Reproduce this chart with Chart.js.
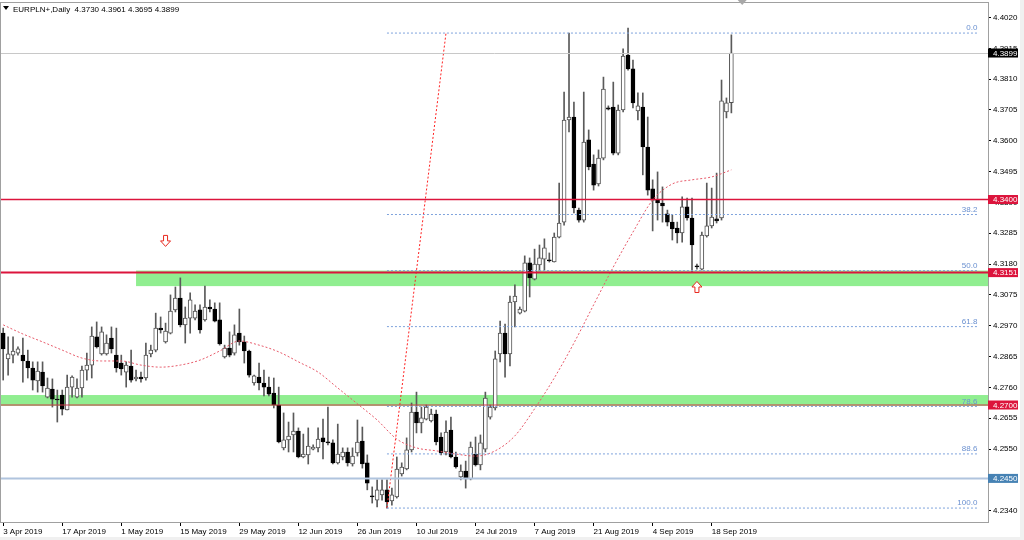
<!DOCTYPE html>
<html>
<head>
<meta charset="utf-8">
<title>EURPLN+ Daily</title>
<script src="https://cdn.jsdelivr.net/npm/chart.js"></script>
<style>
  html, body { margin: 0; padding: 0; background: #f0f0f0; }
  #wrap { width: 1024px; height: 540px; }
</style>
</head>
<body>
<div id="wrap"><canvas id="chart" width="1024" height="540"></canvas></div>
<script>
const symbol = 'EURPLN+,Daily';

// daily candles, 3 Apr 2019 .. 23 Sep 2019 (broker shows sunday bars too)
const opens = [
  4.2945, 4.2857, 4.2870, 4.2877, 4.2870, 4.2850, 4.2826, 4.2782, 4.2812, 4.2727,
  4.2754, 4.2720, 4.2734, 4.2683, 4.2761, 4.2727, 4.2758, 4.2819, 4.2836, 4.2932,
  4.2874, 4.2874, 4.2928, 4.2870, 4.2843, 4.2812, 4.2833, 4.2789, 4.2795, 4.2792,
  4.2874, 4.2887, 4.2962, 4.2915, 4.2945, 4.3024, 4.3064, 4.2973, 4.2996, 4.2996,
  4.3024, 4.2990, 4.3034, 4.3027, 4.2990, 4.2864, 4.2894, 4.2877, 4.2945, 4.2915,
  4.2884, 4.2775, 4.2795, 4.2775, 4.2761, 4.2741, 4.2700, 4.2554, 4.2581, 4.2598,
  4.2611, 4.2523, 4.2530, 4.2550, 4.2554, 4.2588, 4.2574, 4.2571, 4.2503, 4.2523,
  4.2540, 4.2499, 4.2537, 4.2577, 4.2503, 4.2390, 4.2376, 4.2394, 4.2411, 4.2373,
  4.2387, 4.2465, 4.2482, 4.2547, 4.2676, 4.2639, 4.2652, 4.2646, 4.2669, 4.2591,
  4.2540, 4.2615, 4.2523, 4.2455, 4.2475, 4.2448, 4.2533, 4.2496, 4.2550, 4.2659,
  4.2690, 4.2874, 4.2945, 4.2874, 4.3051, 4.3013, 4.3020, 4.3184, 4.3129, 4.3177,
  4.3197, 4.3194, 4.3187, 4.3272, 4.3323, 4.3671, 4.3681, 4.3364, 4.3330, 4.3603,
  4.3521, 4.3453, 4.3541, 4.3712, 4.3715, 4.3558, 4.3705, 4.3892, 4.3845, 4.3702,
  4.3715, 4.3579, 4.3436, 4.3398, 4.3388, 4.3351, 4.3323, 4.3303, 4.3286, 4.3375,
  4.3337, 4.3174, 4.3163, 4.3276, 4.3310, 4.3334, 4.3337, 4.3698, 4.3730
];
const highs = [
  4.2962, 4.2932, 4.2932, 4.2898, 4.2928, 4.2887, 4.2847, 4.2847, 4.2847, 4.2792,
  4.2789, 4.2751, 4.2751, 4.2802, 4.2799, 4.2789, 4.2833, 4.2877, 4.2966, 4.2983,
  4.2966, 4.2939, 4.2966, 4.2962, 4.2870, 4.2847, 4.2887, 4.2819, 4.2812, 4.2911,
  4.2904, 4.3013, 4.3000, 4.2979, 4.3075, 4.3102, 4.3133, 4.3034, 4.3082, 4.3041,
  4.3041, 4.3105, 4.3058, 4.3048, 4.3048, 4.2904, 4.2949, 4.2973, 4.3027, 4.2935,
  4.2887, 4.2802, 4.2843, 4.2819, 4.2795, 4.2792, 4.2761, 4.2673, 4.2642, 4.2673,
  4.2622, 4.2601, 4.2622, 4.2564, 4.2622, 4.2652, 4.2693, 4.2581, 4.2635, 4.2554,
  4.2554, 4.2554, 4.2649, 4.2625, 4.2530, 4.2421, 4.2445, 4.2445, 4.2445, 4.2417,
  4.2523, 4.2503, 4.2588, 4.2707, 4.2744, 4.2693, 4.2700, 4.2686, 4.2683, 4.2605,
  4.2646, 4.2659, 4.2540, 4.2496, 4.2509, 4.2574, 4.2591, 4.2598, 4.2744, 4.2700,
  4.2884, 4.2986, 4.2976, 4.3071, 4.3109, 4.3034, 4.3208, 4.3201, 4.3231, 4.3245,
  4.3266, 4.3218, 4.3286, 4.3456, 4.3766, 4.3967, 4.3732, 4.3371, 4.3766, 4.3637,
  4.3552, 4.3569, 4.3817, 4.3719, 4.3800, 4.3722, 4.3913, 4.3984, 4.3875, 4.3763,
  4.3763, 4.3681, 4.3467, 4.3494, 4.3443, 4.3364, 4.3347, 4.3323, 4.3409, 4.3405,
  4.3405, 4.3180, 4.3289, 4.3456, 4.3439, 4.3490, 4.3807, 4.3746, 4.3961
];
const lows = [
  4.2785, 4.2802, 4.2843, 4.2870, 4.2778, 4.2792, 4.2751, 4.2744, 4.2744, 4.2724,
  4.2693, 4.2642, 4.2666, 4.2683, 4.2727, 4.2724, 4.2727, 4.2785, 4.2792, 4.2894,
  4.2870, 4.2870, 4.2877, 4.2812, 4.2802, 4.2761, 4.2778, 4.2782, 4.2778, 4.2785,
  4.2864, 4.2881, 4.2945, 4.2911, 4.2942, 4.3017, 4.2966, 4.2911, 4.2945, 4.2990,
  4.2945, 4.2986, 4.3017, 4.2983, 4.2904, 4.2860, 4.2864, 4.2870, 4.2904, 4.2843,
  4.2795, 4.2768, 4.2751, 4.2731, 4.2731, 4.2690, 4.2571, 4.2547, 4.2540, 4.2540,
  4.2520, 4.2520, 4.2499, 4.2547, 4.2540, 4.2516, 4.2564, 4.2499, 4.2499, 4.2513,
  4.2492, 4.2492, 4.2526, 4.2485, 4.2411, 4.2366, 4.2353, 4.2376, 4.2349, 4.2359,
  4.2383, 4.2458, 4.2479, 4.2540, 4.2605, 4.2605, 4.2649, 4.2642, 4.2564, 4.2530,
  4.2530, 4.2520, 4.2485, 4.2445, 4.2417, 4.2445, 4.2492, 4.2479, 4.2540, 4.2652,
  4.2683, 4.2847, 4.2795, 4.2833, 4.2966, 4.3010, 4.3017, 4.3068, 4.3126, 4.3157,
  4.3160, 4.3187, 4.3187, 4.3269, 4.3313, 4.3630, 4.3354, 4.3323, 4.3323, 4.3501,
  4.3432, 4.3446, 4.3535, 4.3705, 4.3552, 4.3552, 4.3698, 4.3841, 4.3712, 4.3671,
  4.3484, 4.3415, 4.3293, 4.3330, 4.3323, 4.3310, 4.3262, 4.3252, 4.3255, 4.3330,
  4.3153, 4.3163, 4.3160, 4.3272, 4.3303, 4.3320, 4.3330, 4.3678, 4.3695
];
const closes = [
  4.2891, 4.2874, 4.2884, 4.2891, 4.2850, 4.2826, 4.2785, 4.2816, 4.2765, 4.2758,
  4.2720, 4.2717, 4.2686, 4.2761, 4.2795, 4.2758, 4.2819, 4.2836, 4.2935, 4.2898,
  4.2949, 4.2911, 4.2891, 4.2826, 4.2823, 4.2836, 4.2785, 4.2795, 4.2789, 4.2870,
  4.2887, 4.2962, 4.2956, 4.2952, 4.3020, 4.3064, 4.2973, 4.2996, 4.3058, 4.3020,
  4.2956, 4.3034, 4.3027, 4.2986, 4.2908, 4.2894, 4.2870, 4.2939, 4.2915, 4.2884,
  4.2802, 4.2799, 4.2775, 4.2761, 4.2737, 4.2700, 4.2574, 4.2581, 4.2594, 4.2611,
  4.2523, 4.2533, 4.2560, 4.2557, 4.2584, 4.2574, 4.2571, 4.2503, 4.2533, 4.2540,
  4.2503, 4.2526, 4.2574, 4.2499, 4.2434, 4.2387, 4.2411, 4.2411, 4.2370, 4.2394,
  4.2482, 4.2489, 4.2547, 4.2676, 4.2639, 4.2656, 4.2693, 4.2669, 4.2574, 4.2537,
  4.2608, 4.2523, 4.2489, 4.2475, 4.2448, 4.2557, 4.2496, 4.2571, 4.2724, 4.2693,
  4.2857, 4.2945, 4.2874, 4.3051, 4.3071, 4.3027, 4.3184, 4.3133, 4.3180, 4.3201,
  4.3235, 4.3191, 4.3272, 4.3320, 4.3671, 4.3681, 4.3371, 4.3330, 4.3596, 4.3511,
  4.3449, 4.3541, 4.3776, 4.3708, 4.3558, 4.3705, 4.3889, 4.3845, 4.3729, 4.3719,
  4.3579, 4.3432, 4.3398, 4.3388, 4.3378, 4.3323, 4.3300, 4.3286, 4.3375, 4.3337,
  4.3245, 4.3170, 4.3279, 4.3310, 4.3340, 4.3327, 4.3736, 4.3729, 4.3899
];

// moving average, every 4th bar
const maBars = [0, 4, 8, 12, 16, 20, 24, 28, 32, 36, 40, 44, 48, 52, 56, 60, 64, 68, 72,
  76, 80, 84, 88, 92, 96, 100, 104, 108, 112, 116, 120, 124, 128, 132, 136, 140, 144, 148];
const maValues = [4.2973, 4.2942, 4.2915, 4.2887, 4.2860, 4.2850, 4.2850, 4.2836, 4.2829,
  4.2836, 4.2853, 4.2884, 4.2918, 4.2904, 4.2881, 4.2847, 4.2812, 4.2758, 4.2704, 4.2649,
  4.2584, 4.2554, 4.2544, 4.2533, 4.2526, 4.2544, 4.2595, 4.2687, 4.2792, 4.2911, 4.3041,
  4.3170, 4.3289, 4.3398, 4.3453, 4.3467, 4.3477, 4.3501];

// axes
const dateLabels = ['3 Apr 2019', '17 Apr 2019', '1 May 2019', '15 May 2019', '29 May 2019',
  '12 Jun 2019', '26 Jun 2019', '10 Jul 2019', '24 Jul 2019', '7 Aug 2019', '21 Aug 2019',
  '4 Sep 2019', '18 Sep 2019'];
const dateBars = [0, 12, 24, 36, 48, 60, 72, 84, 96, 108, 120, 132, 144];
const priceTicks = [4.4020, 4.3915, 4.3810, 4.3705, 4.3600, 4.3495, 4.3390, 4.3285, 4.3180,
  4.3075, 4.2970, 4.2865, 4.2760, 4.2655, 4.2550, 4.2445, 4.2340];

// objects on the chart
const hLines = [4.3400, 4.3151, 4.2700, 4.2450];
const zoneTop = [4.3158, 4.2734];
const zoneBottom = [4.3105, 4.2697];
const zoneFromBar = [27, -5];
const fibHigh = 4.3967;
const fibLow = 4.2349;
const fibFromBar = 78;
const fibHighBar = 90;
const fibToBar = 198;
const fibRatios = [0, 38.2, 50, 61.8, 78.6, 88.6, 100];
const arrowBars = [33, 141];
const arrowPrices = [4.3259, 4.3102];
const arrowDirs = ['down', 'up'];
const shiftMarkBar = 150.2;

const FONT = '"Liberation Sans", Arial, sans-serif';
const FIB_COLOR = '#7fa3dc';
const lineStyle = {
  0: { color: '#dc143c', width: 1.5, box: '#dc143c' },
  1: { color: '#dc143c', width: 2, box: '#dc143c' },
  2: { color: '#d0384a', width: 1, box: '#dc143c' },
  3: { color: '#b0c4de', width: 2, box: '#4682b4' }
};

const last = closes.length - 1;
const bodies = opens.map((o, i) => ({ x: i, y: [o, closes[i]] }));
const wicks = lows.map((l, i) => ({ x: i, y: [l, highs[i]] }));
const isUp = opens.map((o, i) => closes[i] >= o);

function drawArrow(ctx, x, y, dir) {
  const s = dir === 'down' ? 1 : -1;
  ctx.beginPath();
  ctx.moveTo(x - 2, y - 5.5 * s);
  ctx.lineTo(x + 2, y - 5.5 * s);
  ctx.lineTo(x + 2, y);
  ctx.lineTo(x + 5, y);
  ctx.lineTo(x, y + 5.5 * s);
  ctx.lineTo(x - 5, y);
  ctx.lineTo(x - 2, y);
  ctx.closePath();
  ctx.fillStyle = '#fff';
  ctx.fill();
  ctx.strokeStyle = '#e8281e';
  ctx.lineWidth = 1;
  ctx.stroke();
}

const mt4Objects = {
  id: 'mt4Objects',
  beforeDraw(c) {
    const ctx = c.ctx;
    ctx.save();
    ctx.fillStyle = '#f0f0f0';
    ctx.fillRect(0, 0, c.width, c.height);
    ctx.fillStyle = '#ffffff';
    ctx.fillRect(0, 0, 1020, 537);
    ctx.restore();
  },
  beforeDatasetsDraw(c) {
    const { ctx, chartArea: a } = c;
    const xs = c.scales.x, ys = c.scales.y;
    ctx.save();
    ctx.beginPath();
    ctx.rect(a.left, a.top, a.right - a.left, a.bottom - a.top);
    ctx.clip();
    ctx.fillStyle = '#90ee90';
    zoneTop.forEach((t, k) => {
      const x0 = Math.max(a.left, xs.getPixelForValue(zoneFromBar[k]));
      const y0 = ys.getPixelForValue(t);
      const y1 = ys.getPixelForValue(zoneBottom[k]);
      ctx.fillRect(x0, y0, a.right - x0, y1 - y0);
    });
    ctx.restore();
  },
  afterDatasetsDraw(c) {
    const { ctx, chartArea: a } = c;
    const xs = c.scales.x, ys = c.scales.y;
    ctx.save();
    ctx.beginPath();
    ctx.rect(a.left, a.top, a.right - a.left, a.bottom - a.top);
    ctx.clip();

    // bid line
    const yb = ys.getPixelForValue(closes[last]);
    ctx.strokeStyle = '#c8c8c8';
    ctx.lineWidth = 1;
    ctx.beginPath();
    ctx.moveTo(a.left, Math.round(yb) + 0.5);
    ctx.lineTo(a.right, Math.round(yb) + 0.5);
    ctx.stroke();

    // horizontal levels
    hLines.forEach((v, k) => {
      const y = ys.getPixelForValue(v);
      ctx.strokeStyle = lineStyle[k].color;
      ctx.lineWidth = lineStyle[k].width;
      ctx.beginPath();
      ctx.moveTo(a.left, y);
      ctx.lineTo(a.right, y);
      ctx.stroke();
    });

    // fibonacci levels
    const fx0 = xs.getPixelForValue(fibFromBar);
    const fx1 = xs.getPixelForValue(fibToBar);
    ctx.setLineDash([2, 2]);
    ctx.lineWidth = 1;
    ctx.font = '8px ' + FONT;
    ctx.textAlign = 'right';
    ctx.textBaseline = 'bottom';
    fibRatios.forEach(r => {
      const v = fibHigh - (fibHigh - fibLow) * r / 100;
      const y = ys.getPixelForValue(v);
      ctx.strokeStyle = FIB_COLOR;
      ctx.beginPath();
      ctx.moveTo(fx0, y);
      ctx.lineTo(fx1, y);
      ctx.stroke();
      ctx.fillStyle = '#6a90d0';
      ctx.fillText(r.toFixed(1), fx1, y - 1);
    });
    ctx.setLineDash([]);

    // arrows
    arrowBars.forEach((b, k) => {
      drawArrow(ctx, xs.getPixelForValue(b), ys.getPixelForValue(arrowPrices[k]), arrowDirs[k]);
    });
    ctx.restore();
  },
  afterDraw(c) {
    const { ctx, chartArea: a } = c;
    const xs = c.scales.x, ys = c.scales.y;
    ctx.save();

    // frame
    ctx.strokeStyle = '#a0a0a0';
    ctx.lineWidth = 1;
    ctx.strokeRect(a.left - 0.5, a.top - 0.5, a.right - a.left + 1, a.bottom - a.top + 1);

    // price labels on the axis
    ctx.font = '8px ' + FONT;
    ctx.textAlign = 'left';
    ctx.textBaseline = 'middle';
    const box = (v, bg) => {
      const y = ys.getPixelForValue(v);
      ctx.fillStyle = bg;
      ctx.fillRect(a.right, y - 4.5, 30, 9);
      ctx.fillStyle = '#fff';
      ctx.fillText(v.toFixed(4), a.right + 5, y + 0.5);
    };
    hLines.forEach((v, k) => box(v, lineStyle[k].box));
    box(closes[last], '#000');

    // chart shift mark
    const sx = xs.getPixelForValue(shiftMarkBar);
    ctx.fillStyle = '#a8a8a8';
    ctx.beginPath();
    ctx.moveTo(sx - 4.5, 0);
    ctx.lineTo(sx + 4.5, 0);
    ctx.lineTo(sx, 5);
    ctx.closePath();
    ctx.fill();

    // title
    ctx.fillStyle = '#000';
    ctx.beginPath();
    ctx.moveTo(3, 6);
    ctx.lineTo(9, 6);
    ctx.lineTo(6, 10);
    ctx.closePath();
    ctx.fill();
    const f = v => v.toFixed(4);
    ctx.textBaseline = 'middle';
    ctx.fillText(symbol + '  ' + f(opens[last]) + ' ' + f(highs[last]) + ' ' +
      f(lows[last]) + ' ' + f(closes[last]), 13, 9.5);
    ctx.restore();
  }
};

new Chart(document.getElementById('chart'), {
  type: 'bar',
  data: {
    datasets: [
      {
        type: 'line',
        data: maBars.map((b, k) => ({ x: b, y: maValues[k] })),
        borderColor: '#e85a6a',
        borderWidth: 1,
        borderDash: [2, 2],
        pointRadius: 0,
        cubicInterpolationMode: 'monotone',
        order: -2
      },
      {
        type: 'line',
        data: [{ x: fibFromBar, y: fibLow }, { x: fibHighBar, y: fibHigh }],
        borderColor: '#ff2020',
        borderWidth: 1,
        borderDash: [2, 2],
        pointRadius: 0,
        order: -1
      },
      {
        data: bodies,
        backgroundColor: isUp.map(u => (u ? '#ffffff' : '#000000')),
        borderColor: isUp.map(u => (u ? '#505050' : '#000000')),
        borderWidth: 1,
        borderSkipped: false,
        minBarLength: 1,
        maxBarThickness: 4,
        grouped: false,
        categoryPercentage: 1,
        barPercentage: 1,
        order: 0
      },
      {
        data: wicks,
        backgroundColor: '#5a5a5a',
        borderWidth: 0,
        maxBarThickness: 1,
        grouped: false,
        categoryPercentage: 1,
        barPercentage: 1,
        order: 1
      }
    ]
  },
  options: {
    responsive: false,
    animation: false,
    devicePixelRatio: 1,
    layout: { padding: { left: 1, top: 3, right: 0, bottom: 0 } },
    plugins: { legend: { display: false }, tooltip: { enabled: false } },
    scales: {
      x: {
        type: 'linear',
        offset: false,
        min: -0.447,
        max: 200.16,
        afterBuildTicks: s => { s.ticks = dateBars.map(v => ({ value: v })); },
        afterFit: s => { s.height = 18; s.paddingLeft = 0; s.paddingRight = 0; },
        ticks: {
          callback: (v, i) => dateLabels[i],
          align: 'start',
          autoSkip: false,
          maxRotation: 0,
          padding: 1,
          color: '#000',
          font: { family: FONT, size: 8 }
        },
        grid: { offset: false, drawOnChartArea: false, tickLength: 4, color: '#000' },
        border: { display: false }
      },
      y: {
        type: 'linear',
        position: 'right',
        min: 4.23015,
        max: 4.40694,
        afterBuildTicks: s => { s.ticks = priceTicks.map(v => ({ value: v })); },
        afterFit: s => { s.width = 36; s.paddingTop = 0; s.paddingBottom = 0; },
        ticks: {
          callback: v => v.toFixed(4),
          padding: 2,
          color: '#000',
          font: { family: FONT, size: 8 }
        },
        grid: { drawOnChartArea: false, tickLength: 3, color: '#000' },
        border: { display: false }
      }
    }
  },
  plugins: [mt4Objects]
});
</script>
</body>
</html>
